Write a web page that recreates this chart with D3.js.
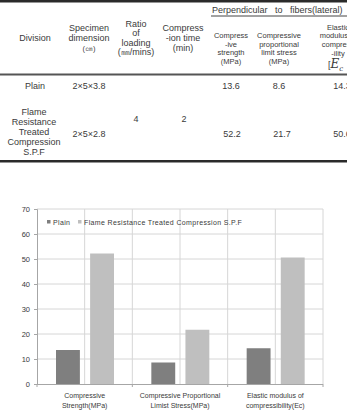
<!DOCTYPE html>
<html>
<head>
<meta charset="utf-8">
<script src="https://cdn.jsdelivr.net/npm/d3@7"></script>
<style>
  body { margin: 0; background: #fff; }
  text { font-family: "Liberation Sans", Arial, sans-serif; fill: #3a3a3a; }
</style>
</head>
<body>
<script>
// chart data
var categories = ["Compressive Strength(MPa)", "Compressive Proportional Limist Stress(MPa)", "Elastic modulus of compressibility(Ec)"];
var categoryLines = [["Compressive", "Strength(MPa)"], ["Compressive Proportional", "Limist Stress(MPa)"], ["Elastic modulus of", "compressibility(Ec)"]];
var seriesNames = ["Plain", "Flame Resistance Treated Compression S.P.F"];
var plainValues = [13.6, 8.6, 14.3];
var flameValues = [52.2, 21.7, 50.6];
var yTicks = [0, 10, 20, 30, 40, 50, 60, 70];

// table text
var headCols = [
  {x: 35, lines: ["Division"]},
  {x: 89, lines: ["Specimen", "dimension", "(\u339d)"]},
  {x: 136, lines: ["Ratio", "of", "loading", "(\u339c/mins)"]},
  {x: 183, lines: ["Compress", "-ion time", "(min)"]},
  {x: 231, lines: ["Compress", "-ive", "strength", "(MPa)"], small: true},
  {x: 279, lines: ["Compressive", "proportional", "limit stress", "(MPa)"], small: true},
  {x: 338, lines: ["Elastic", "modulus of", "compress", "-ility"], small: true}
];
var rowPlain = ["Plain", "2\u00d75\u00d73.8", "13.6", "8.6", "14.3"];
var rowFlame = ["2\u00d75\u00d72.8", "52.2", "21.7", "50.6"];
var flameName = ["Flame", "Resistance", "Treated", "Compression", "S.P.F"];

var W = 347, H = 419;
var svg = d3.select("body").append("svg").attr("width", W).attr("height", H);

// ---- table ----
var tb = svg.append("g");
tb.append("rect").attr("x", 0).attr("y", 0).attr("width", W).attr("height", 2.5).attr("fill", "#2a2a2a");
tb.append("line").attr("x1", 211).attr("x2", W).attr("y1", 16).attr("y2", 16).attr("stroke", "#444").attr("stroke-width", 1);
tb.append("rect").attr("x", 0).attr("y", 73.5).attr("width", W).attr("height", 2).attr("fill", "#555");
tb.append("rect").attr("x", 0).attr("y", 160).attr("width", W).attr("height", 2.5).attr("fill", "#2a2a2a");

tb.append("text").attr("x", 212).attr("y", 13).attr("font-size", 9).attr("word-spacing", 5)
  .text("Perpendicular to fibers(lateral)");

headCols.forEach(function(c) {
  var fs = c.small ? 7.5 : 9;
  var lh = c.small ? 8.7 : 9.6;
  var n = c.lines.length;
  var top = c.small ? (c.x > 300 ? 29.5 : 38) : 41 - (n - 1) * lh / 2;
  c.lines.forEach(function(l, i) {
    tb.append("text").attr("x", c.x).attr("y", top + i * lh).attr("text-anchor", "middle")
      .attr("font-size", (l.charAt(0) == "(" && !c.small && c.x < 100) ? 7.5 : fs).text(l);
  });
});
// [Ec] symbol
var ec = tb.append("text").attr("x", 328).attr("y", 68).attr("font-size", 9);
ec.append("tspan").text("[");
ec.append("tspan").attr("font-family", "DejaVu Serif, serif").attr("font-style", "italic").attr("font-size", 12).text("E");
ec.append("tspan").attr("font-family", "DejaVu Serif, serif").attr("font-style", "italic").attr("font-size", 7).attr("dy", 3).text("c");

var valX = [35, 89, 231, 279, 342];
rowPlain.forEach(function(v, i) {
  tb.append("text").attr("x", valX[i]).attr("y", 88.5).attr("text-anchor", "middle").attr("font-size", 9).text(v);
});
flameName.forEach(function(l, i) {
  tb.append("text").attr("x", 34).attr("y", 115 + i * 10).attr("text-anchor", "middle").attr("font-size", 9).text(l);
});
rowFlame.forEach(function(v, i) {
  tb.append("text").attr("x", [89, 232, 282, 342][i]).attr("y", 137).attr("text-anchor", "middle").attr("font-size", 9).text(v);
});
tb.append("text").attr("x", 136).attr("y", 122).attr("text-anchor", "middle").attr("font-size", 9).text("4");
tb.append("text").attr("x", 184).attr("y", 122).attr("text-anchor", "middle").attr("font-size", 9).text("2");

// ---- chart ----
var m = {left: 37, right: 323, top: 209, bottom: 384};
var x = d3.scaleBand().domain(categories).range([m.left, m.right]);
var xs = d3.scaleBand().domain(seriesNames).range([19, 77]).paddingInner(0.3);
var y = d3.scaleLinear().domain([0, 70]).range([m.bottom, m.top]);
var colors = ["#7f7f7f", "#bfbfbf"];

var g = svg.append("g");

// horizontal gridlines
g.selectAll(".hg").data(yTicks.slice(1)).enter().append("line")
  .attr("x1", m.left).attr("x2", m.right)
  .attr("y1", function(d) { return y(d); }).attr("y2", function(d) { return y(d); })
  .attr("stroke", "#d6d6d6").attr("stroke-width", 1);

// vertical gridlines at band edges and midpoints
var vx = [];
categories.forEach(function(c) { vx.push(x(c) + x.bandwidth() / 2, x(c) + x.bandwidth()); });
g.selectAll(".vg").data(vx).enter().append("line")
  .attr("x1", function(d) { return d; }).attr("x2", function(d) { return d; })
  .attr("y1", m.top).attr("y2", m.bottom)
  .attr("stroke", "#d6d6d6").attr("stroke-width", 1);

// bars
var series = [plainValues, flameValues];
series.forEach(function(vals, si) {
  g.selectAll(".bar" + si).data(vals).enter().append("rect")
    .attr("x", function(d, i) { return x(categories[i]) + xs(seriesNames[si]); })
    .attr("width", xs.bandwidth())
    .attr("y", function(d) { return y(d); })
    .attr("height", function(d) { return y(0) - y(d); })
    .attr("fill", colors[si]);
});

// y axis
var yAxis = d3.axisLeft(y).tickValues(yTicks).tickSize(3).tickPadding(4);
var ya = g.append("g").attr("transform", "translate(" + m.left + ",0)").call(yAxis);
ya.select(".domain").attr("stroke", "#a6a6a6");
ya.selectAll(".tick line").attr("stroke", "#a6a6a6");
ya.selectAll("text").attr("font-size", 7.5).attr("fill", "#3a3a3a");

// x axis
g.append("line").attr("x1", m.left).attr("x2", m.right).attr("y1", m.bottom + 0.5).attr("y2", m.bottom + 0.5)
  .attr("stroke", "#a6a6a6");
var edges = [m.left].concat(categories.map(function(c) { return x(c) + x.bandwidth(); }));
g.selectAll(".xt").data(edges).enter().append("line")
  .attr("x1", function(d) { return d; }).attr("x2", function(d) { return d; })
  .attr("y1", m.bottom).attr("y2", m.bottom + 3).attr("stroke", "#a6a6a6");

categoryLines.forEach(function(lines, i) {
  lines.forEach(function(l, j) {
    g.append("text").attr("x", x(categories[i]) + x.bandwidth() / 2).attr("y", 398 + j * 9.5)
      .attr("text-anchor", "middle").attr("font-size", 7).text(l);
  });
});

// legend
var lg = g.append("g").attr("transform", "translate(47,222)");
var lx = [0, 31];
seriesNames.forEach(function(s, i) {
  lg.append("rect").attr("x", lx[i]).attr("y", -2).attr("width", 3.5).attr("height", 3.5).attr("fill", colors[i]);
  lg.append("text").attr("x", lx[i] + 6).attr("y", 2.5).attr("font-size", 7).attr("letter-spacing", 0.35).text(s);
});
</script>
</body>
</html>
